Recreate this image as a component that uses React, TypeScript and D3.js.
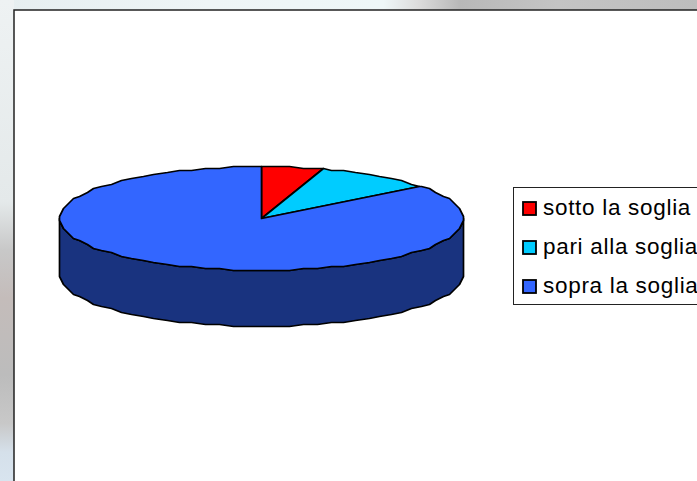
import React from "react";
import * as d3 from "d3";

const categories = ["sotto la soglia", "pari alla soglia", "sopra la soglia"];
const values = [5, 9.4, 85.6];
const colors = ["#ff0000", "#00ccff", "#3366ff"];
const sideColor = "#19337f";

const W = 697, H = 481;
const cx = 261.5, cy = 218.5, rx = 202, ry = 52, depth = 56;
const STEP = (Math.PI * 2) / 90;
const GRID = 2;

const pieGen = d3.pie<number>().sort(null).startAngle(0).endAngle(Math.PI * 2);
const rxScale = d3.scaleLinear().domain([0, 1]).range([0, rx]);
const ryScale = d3.scaleLinear().domain([0, 1]).range([0, ry]);

const snap = (v: number) => Math.round(v / GRID) * GRID;
const px = (a: number) => cx + snap(rxScale(Math.sin(a)));
const py = (a: number, dy = 0) => cy - snap(ryScale(Math.cos(a))) + dy;

function rimPoints(a0: number, a1: number, dy = 0): [number, number][] {
  const pts: [number, number][] = [[px(a0), py(a0, dy)]];
  let a = Math.ceil(a0 / STEP + 1e-6) * STEP;
  while (a < a1 - 1e-6) {
    pts.push([px(a), py(a, dy)]);
    a += STEP;
  }
  pts.push([px(a1), py(a1, dy)]);
  return pts;
}

const line = d3.line();

const stripTop = [
  [0, "#e6eef0"], [0.3, "#eef5f6"], [0.55, "#eef7f8"], [0.6, "#dcdcdc"], [0.66, "#b8b8b8"], [0.8, "#c4c4c4"], [1, "#bdbdbd"],
] as const;
const stripLeft = [
  [0, "#eef2f3"], [0.42, "#e4e9ea"], [0.52, "#c8c8c8"], [0.62, "#c4bcba"], [0.78, "#bcbcbc"], [0.88, "#c8c8c8"], [0.94, "#d5e0ea"], [1, "#d8e4ef"],
] as const;

export default function App() {
  const arcs = pieGen(values);
  const sideFront = rimPoints(Math.PI / 2, (Math.PI * 3) / 2);
  const sideBack = rimPoints(Math.PI / 2, (Math.PI * 3) / 2, depth).reverse();
  const legendY = [208, 247, 286];
  return (
    <svg width={W} height={H} style={{ position: "absolute", left: 0, top: 0 }}
      fontFamily="'Liberation Sans', Arial, sans-serif">
      <defs>
        <linearGradient id="bgTop" x1="0" x2="1" y1="0" y2="0">
          {stripTop.map(([o, c]) => <stop key={o} offset={o} stopColor={c} />)}
        </linearGradient>
        <linearGradient id="bgLeft" x1="0" x2="0" y1="0" y2="1">
          {stripLeft.map(([o, c]) => <stop key={o} offset={o} stopColor={c} />)}
        </linearGradient>
      </defs>
      <rect x={0} y={0} width={W} height={10} fill="url(#bgTop)" />
      <rect x={0} y={0} width={14} height={H} fill="url(#bgLeft)" />
      <rect x={14} y={10} width={W} height={H} fill="#fff" stroke="#222" strokeWidth={1.5} />

      <path
        d={line([...sideFront, ...sideBack])! + "Z"}
        fill={sideColor} stroke="#000" strokeWidth={1.7} strokeLinejoin="round"
      />
      {arcs.map((d, i) => (
        <path
          key={categories[i]}
          d={line([[cx, cy], ...rimPoints(d.startAngle, d.endAngle)])! + "Z"}
          fill={colors[i]} stroke="#000" strokeWidth={1.7} strokeLinejoin="round"
        />
      ))}

      <rect x={513.5} y={187.5} width={200} height={117} fill="#fff" stroke="#222" strokeWidth={1} />
      {categories.map((c, i) => (
        <g key={c}>
          <rect x={523} y={legendY[i] - 6} width={13} height={13} fill={colors[i]} stroke="#000" strokeWidth={1.8} />
          <text x={543} y={legendY[i] + 7} fontSize={22.5} letterSpacing={0.7} fill="#000">{c}</text>
        </g>
      ))}
    </svg>
  );
}
